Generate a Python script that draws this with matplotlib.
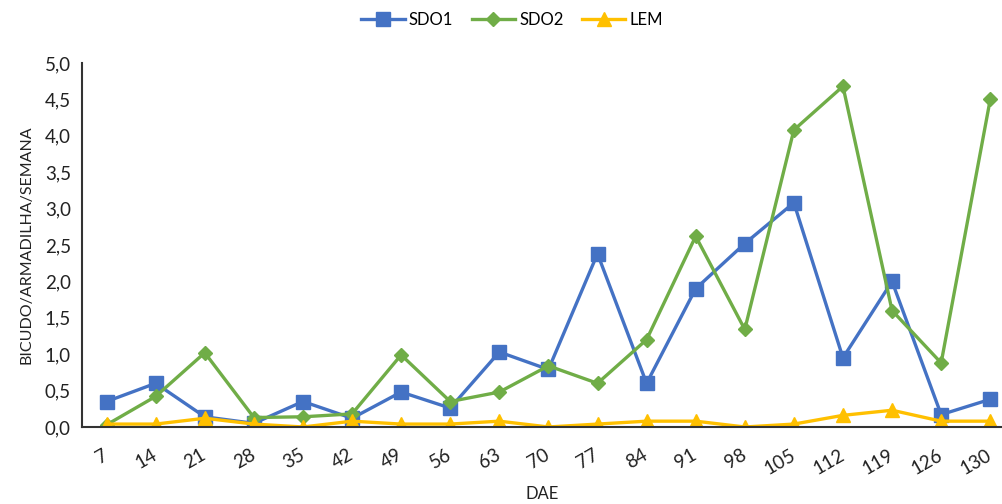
import matplotlib.pyplot as plt
import numpy as np

plt.rcParams['font.family'] = ['Lato', 'DejaVu Sans']

dae = ['7', '14', '21', '28', '35', '42', '49', '56', '63', '70',
       '77', '84', '91', '98', '105', '112', '119', '126', '130']
sdo1 = [0.35, 0.60, 0.14, 0.05, 0.35, 0.12, 0.48, 0.26, 1.03, 0.79,
        2.38, 0.60, 1.90, 2.52, 3.08, 0.95, 2.00, 0.17, 0.38]
sdo2 = [0.03, 0.42, 1.02, 0.13, 0.14, 0.18, 0.99, 0.35, 0.48, 0.84,
        0.60, 1.20, 2.62, 1.34, 4.08, 4.68, 1.60, 0.88, 4.50]
lem = [0.04, 0.04, 0.12, 0.04, 0.00, 0.08, 0.04, 0.04, 0.08, 0.00,
       0.04, 0.08, 0.08, 0.00, 0.04, 0.16, 0.23, 0.08, 0.08]

fig = plt.figure(figsize=(10.03, 5.04), dpi=100)
ax = fig.add_axes([0.0818, 0.1528, 0.9182, 0.7222])

x = np.arange(len(dae))
ax.plot(x, sdo1, color='#4472C4', lw=2.4, marker='s', ms=9.5, label='SDO1')
ax.plot(x, sdo2, color='#70AD47', lw=2.4, marker='D', ms=7, label='SDO2')
ax.plot(x, lem, color='#FFC000', lw=2.4, marker='^', ms=10, label='LEM')

ax.set_xlim(-0.5, 18.26)
ax.set_ylim(0, 5)
yt = np.arange(0, 5.01, 0.5)
ax.set_yticks(yt)
ax.set_yticklabels([f'{v:.1f}'.replace('.', ',') for v in yt])
ax.set_xticks(x)
# rotated labels end at their tick, like spreadsheet charts
ax.set_xticklabels(dae, rotation=30, ha='right', va='center', rotation_mode='anchor')
ax.tick_params(length=0, labelsize=13.5, colors='#222222')
ax.tick_params(axis='x', pad=19)
ax.tick_params(axis='y', pad=8)

for s in ['top', 'right']:
    ax.spines[s].set_visible(False)
for s in ['left', 'bottom']:
    ax.spines[s].set_color('#333333')
    ax.spines[s].set_linewidth(1.5)

ax.set_ylabel('BICUDO/ARMADILHA/SEMANA', fontsize=11.5, color='#222222', labelpad=8)
ax.set_xlabel('DAE', fontsize=12, color='#222222')
ax.xaxis.set_label_coords(0.5, -0.163)

ax.legend(loc='center', bbox_to_anchor=(0.467, 1.118), ncol=3, frameon=False,
          fontsize=12, handlelength=2.6, columnspacing=1.1, handletextpad=0.25)

fig.savefig('out.png', dpi=100)
